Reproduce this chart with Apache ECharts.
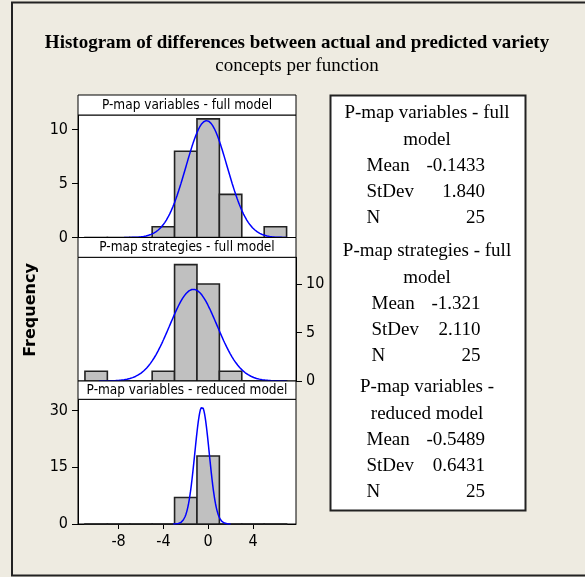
<!DOCTYPE html>
<html>
<head>
<meta charset="utf-8">
<script src="https://cdn.jsdelivr.net/npm/echarts@6/dist/echarts.min.js"></script>
<style>
html,body{margin:0;padding:0;background:#eeebe1;}
#chart{width:585px;height:577px;}
</style>
</head>
<body>
<div id="chart"></div>
<script>
// ---- data ----
const panelTitles = ['P-map variables - full model', 'P-map strategies - full model', 'P-map variables - reduced model'];
const legendTitles = [['P-map variables - full', 'model'], ['P-map strategies - full', 'model'], ['P-map variables -', 'reduced model']];
const binStart = -11;
const binWidth = 2;
const countsFullVariables = [0, 0, 0, 1, 8, 11, 4, 0, 1];
const countsFullStrategies = [1, 0, 0, 1, 12, 10, 1, 0, 0];
const countsReducedVariables = [0, 0, 0, 0, 7, 18, 0, 0, 0];
const means = [-0.1433, -1.321, -0.5489];
const stdevs = [1.840, 2.110, 0.6431];
const ns = [25, 25, 25];
const xTicks = [-8, -4, 0, 4];
const yTicks1 = [0, 5, 10];
const yTicks2 = [0, 5, 10];
const yTicks3 = [0, 15, 30];
const yMax = [11.36, 12.75, 33];
const xMin = -11.62, xMax = 7.84;

const allCounts = [countsFullVariables, countsFullStrategies, countsReducedVariables];
const allYTicks = [yTicks1, yTicks2, yTicks3];

// ---- layout ----
const plotLeft = 78, plotWidth = 218;
const headers = [[95, 115], [237.5, 257.3], [381, 399.3]];
const bottoms = [237.5, 381, 524];
const tickFont = 'DejaVu Sans Condensed, DejaVu Sans, sans-serif';

const chart = echarts.init(document.getElementById('chart'), null, {renderer: 'canvas'});

const grids = [], xAxes = [], yAxes = [], series = [];
for (let i = 0; i < 3; i++) {
  grids.push({left: plotLeft, width: plotWidth, top: headers[i][1], height: bottoms[i] - headers[i][1],
    show: true, backgroundColor: '#ffffff', borderColor: '#000', borderWidth: 1, containLabel: false});
  xAxes.push({type: 'value', gridIndex: i, min: xMin, max: xMax,
    show: i === 2,
    axisLine: {show: true, onZero: false, lineStyle: {color: '#000', width: 1}},
    axisTick: {show: true, inside: false, length: 5, lineStyle: {color: '#000'}, customValues: xTicks},
    axisLabel: {show: true, margin: 10, color: '#000', fontSize: 16, fontFamily: tickFont, customValues: xTicks},
    splitLine: {show: false}});
  yAxes.push({type: 'value', gridIndex: i, min: 0, max: yMax[i], position: i === 1 ? 'right' : 'left',
    axisLine: {show: true, onZero: false, lineStyle: {color: '#000', width: 1}},
    axisTick: {show: true, inside: false, length: 6, lineStyle: {color: '#000'}, customValues: allYTicks[i]},
    axisLabel: {show: true, margin: 10, color: '#000', fontSize: 16, fontFamily: tickFont, customValues: allYTicks[i]},
    splitLine: {show: false}});
  const barData = allCounts[i].map((c, k) => [binStart + k * binWidth, binStart + (k + 1) * binWidth, c]);
  series.push({type: 'custom', xAxisIndex: i, yAxisIndex: i, z: 2,
    encode: {x: [0, 1], y: 2},
    data: barData,
    renderItem: function (params, api) {
      const p0 = api.coord([api.value(0), api.value(2)]);
      const p1 = api.coord([api.value(1), 0]);
      return {type: 'rect', shape: {x: p0[0], y: p0[1], width: p1[0] - p0[0], height: Math.max(p1[1] - p0[1], 0.01)},
        style: {fill: '#c0c0c0', stroke: '#222', lineWidth: 1.6}};
    }});
  // fitted normal curve from the displayed Mean / StDev / N
  const m = means[i], s = stdevs[i], n = ns[i];
  const curve = [];
  const lo = Math.max(m - 4 * s, binStart), hi = Math.min(m + 4 * s, binStart + allCounts[i].length * binWidth);
  const steps = 200;
  for (let k = 0; k <= steps; k++) {
    const x = lo + (hi - lo) * k / steps;
    const y = n * binWidth / (s * Math.sqrt(2 * Math.PI)) * Math.exp(-0.5 * ((x - m) / s) ** 2);
    curve.push([x, y]);
  }
  series.push({type: 'line', xAxisIndex: i, yAxisIndex: i, z: 3, data: curve, showSymbol: false, symbol: 'none',
    lineStyle: {color: '#0000ff', width: 1.5}, silent: true, animation: false});
}

const graphics = [];
// outer frame (left, top, bottom edges; the right edge lies outside the picture)
graphics.push({type: 'polyline', shape: {points: [[600, 2.5], [12, 2.5], [12, 575.5], [600, 575.5]]}, style: {fill: null, stroke: '#222', lineWidth: 2}, silent: true, z: 0});
// titles
graphics.push({type: 'text', x: 297, y: 43, style: {text: 'Histogram of differences between actual and predicted variety', font: 'bold 19px "Liberation Serif", "Times New Roman", serif', fill: '#000', align: 'center', verticalAlign: 'middle'}});
graphics.push({type: 'text', x: 297, y: 66, style: {text: 'concepts per function', font: '19px "Liberation Serif", "Times New Roman", serif', fill: '#000', align: 'center', verticalAlign: 'middle'}});
// y axis title
graphics.push({type: 'text', x: 31, y: 310, rotation: Math.PI / 2, style: {text: 'Frequency', font: 'bold 16px "DejaVu Sans", sans-serif', fill: '#000', align: 'center', verticalAlign: 'middle'}});
// panel header strips
for (let i = 0; i < 3; i++) {
  graphics.push({type: 'rect', z: 10, shape: {x: plotLeft, y: headers[i][0], width: plotWidth, height: headers[i][1] - headers[i][0]},
    style: {fill: '#fff', stroke: '#000', lineWidth: 1}});
  graphics.push({type: 'text', z: 11, x: plotLeft + plotWidth / 2, y: (headers[i][0] + headers[i][1]) / 2 + 0.5,
    style: {text: panelTitles[i], font: '13.5px ' + tickFont, fill: '#000', align: 'center', verticalAlign: 'middle'}});
}
// legend box
graphics.push({type: 'rect', z: 10, shape: {x: 330.5, y: 95.5, width: 195, height: 415}, style: {fill: '#fff', stroke: '#222', lineWidth: 2}});
const serif = '19px "Liberation Serif", "Times New Roman", serif';
const blockTop = [113.5, 251.5, 387.5];
const labelLeft = [366.5, 371.5, 366.5];
const valueRight = [485, 480.5, 485];
for (let i = 0; i < 3; i++) {
  const y0 = blockTop[i];
  graphics.push({type: 'text', z: 11, x: 427, y: y0, style: {text: legendTitles[i][0], font: serif, fill: '#000', align: 'center', verticalAlign: 'middle'}});
  graphics.push({type: 'text', z: 11, x: 427, y: y0 + 26.5, style: {text: legendTitles[i][1], font: serif, fill: '#000', align: 'center', verticalAlign: 'middle'}});
  const rows = [['Mean', means[i].toPrecision(4)], ['StDev', stdevs[i].toPrecision(4)], ['N', String(ns[i])]];
  rows.forEach((r, k) => {
    const y = y0 + 52.5 + k * 26;
    graphics.push({type: 'text', z: 11, x: labelLeft[i], y: y, style: {text: r[0], font: serif, fill: '#000', align: 'left', verticalAlign: 'middle'}});
    graphics.push({type: 'text', z: 11, x: valueRight[i], y: y, style: {text: r[1], font: serif, fill: '#000', align: 'right', verticalAlign: 'middle'}});
  });
}

chart.setOption({
  backgroundColor: '#eeebe1',
  animation: false,
  grid: grids,
  xAxis: xAxes,
  yAxis: yAxes,
  series: series,
  graphic: graphics
});
</script>
</body>
</html>
